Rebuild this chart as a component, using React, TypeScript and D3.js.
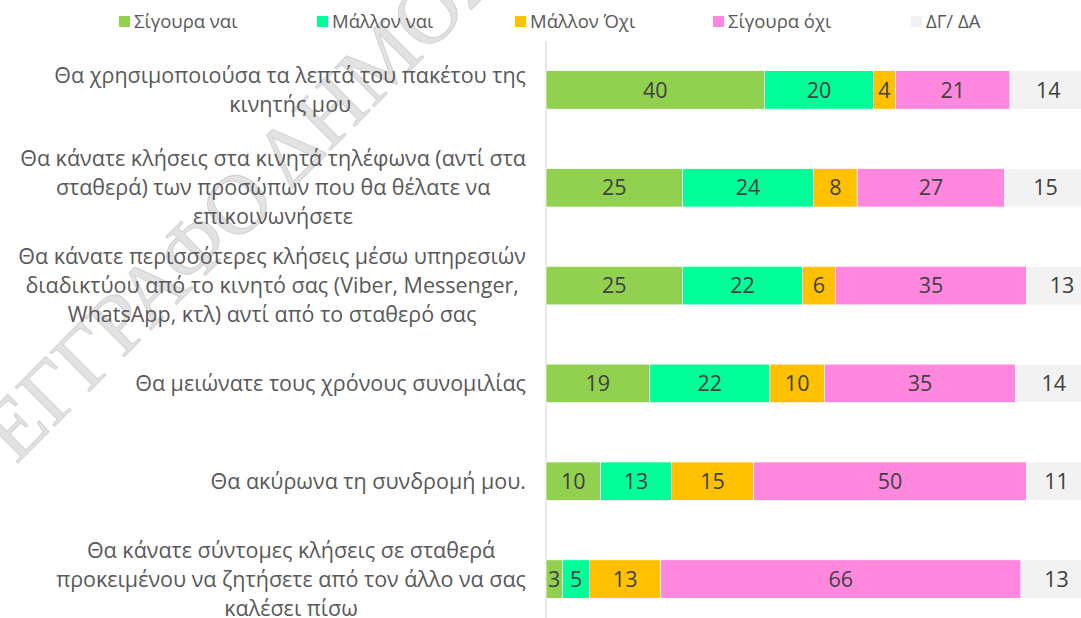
import React, { useEffect, useRef } from "react";
import * as d3 from "d3";

const W = 1081;
const H = 618;

const categories: string[][] = [
  ["Θα χρησιμοποιούσα τα λεπτά του πακέτου της", "κινητής μου"],
  ["Θα κάνατε κλήσεις στα κινητά τηλέφωνα (αντί στα", "σταθερά) των προσώπων που θα θέλατε να", "επικοινωνήσετε"],
  ["Θα κάνατε περισσότερες κλήσεις μέσω υπηρεσιών", "διαδικτύου από το κινητό σας (Viber, Messenger,", "WhatsApp, κτλ) αντί από το σταθερό σας"],
  ["Θα μειώνατε τους χρόνους συνομιλίας"],
  ["Θα ακύρωνα τη συνδρομή μου."],
  ["Θα κάνατε σύντομες κλήσεις σε σταθερά", "προκειμένου να ζητήσετε από τον άλλο να σας", "καλέσει πίσω"],
];

const seriesNames = ["Σίγουρα ναι", "Μάλλον ναι", "Μάλλον Όχι", "Σίγουρα όχι", "ΔΓ/ ΔΑ"];
const seriesColors = ["#92D050", "#00FF99", "#FFC000", "#FF87DD", "#F2F2F2"];

const sigouraNai = [40, 25, 25, 19, 10, 3];
const mallonNai = [20, 24, 22, 22, 13, 5];
const mallonOxi = [4, 8, 6, 10, 15, 13];
const sigouraOxi = [21, 27, 35, 35, 50, 66];
const dgDa = [14, 15, 13, 14, 11, 13];

const seriesValues = [sigouraNai, mallonNai, mallonOxi, sigouraOxi, dgDa];

const FONT = "'Open Sans', 'Noto Sans', sans-serif";

export default function App() {
  const ref = useRef<SVGSVGElement>(null);

  useEffect(() => {
    const svg = d3.select(ref.current);
    svg.selectAll("*").remove();

    const plotLeft = 546;
    const plotRight = 1092;
    const plotTop = 41;
    const plotBottom = 628;

    const ids = categories.map((_, i) => String(i));
    const y = d3.scaleBand<string>().domain(ids).range([plotTop, plotBottom]).paddingInner(0.605).paddingOuter(0.3025);
    const x = d3.scaleLinear().domain([0, 100]).range([plotLeft, plotRight]);

    // watermark
    svg
      .append("text")
      .attr("transform", "translate(16,465) rotate(-45)")
      .attr("font-family", "'Liberation Serif', 'DejaVu Serif', serif")
      .attr("font-size", 85)
      .attr("fill", "#e2e2e2")
      .attr("stroke", "#cdcdcd")
      .attr("stroke-width", 0.8)
      .text("ΕΓΓΡΑΦΟ ΔΗΜΟΣΙΟ");

    // axis line
    svg
      .append("line")
      .attr("x1", plotLeft)
      .attr("x2", plotLeft)
      .attr("y1", plotTop)
      .attr("y2", plotBottom)
      .attr("stroke", "#d9d9d9")
      .attr("stroke-width", 1.2);

    // stacked data
    const rows = categories.map((_, i) => {
      const o: any = { id: String(i) };
      seriesNames.forEach((s, k) => (o[s] = seriesValues[k][i]));
      return o;
    });
    const stacked = d3.stack<any>().keys(seriesNames)(rows);

    const g = svg.append("g");
    stacked.forEach((layer, k) => {
      const lg = g.append("g");
      lg.selectAll("rect")
        .data(layer)
        .join("rect")
        .attr("x", (d) => x(d[0]))
        .attr("y", (d) => y(d.data.id)!)
        .attr("width", (d) => x(d[1]) - x(d[0]))
        .attr("height", y.bandwidth())
        .attr("fill", seriesColors[k])
        .attr("stroke", "#ffffff")
        .attr("stroke-width", 0.8);
      lg.selectAll("text")
        .data(layer)
        .join("text")
        .attr("x", (d) => (x(d[0]) + x(d[1])) / 2)
        .attr("y", (d) => y(d.data.id)! + y.bandwidth() / 2)
        .attr("dy", "0.36em")
        .attr("text-anchor", "middle")
        .attr("font-family", FONT)
        .attr("font-size", 21.5)
        .attr("fill", "#404040")
        .text((d) => String(d[1] - d[0]));
    });

    // category labels
    const lineH = 29;
    const rightEdge = 526;
    categories.forEach((lines, i) => {
      const cy = y(String(i))! + y.bandwidth() / 2;
      const tg = svg.append("g");
      const texts = lines.map((ln) =>
        tg
          .append("text")
          .attr("font-family", FONT)
          .attr("font-size", 21.5)
          .attr("fill", "#595959")
          .attr("text-anchor", "middle")
          .text(ln)
      );
      const widths = texts.map((t) => (t.node() as SVGTextElement).getComputedTextLength());
      const maxW = d3.max(widths) || 0;
      const cx = rightEdge - maxW / 2;
      const n = lines.length;
      texts.forEach((t, j) => {
        t.attr("x", cx)
          .attr("y", cy + (j - (n - 1) / 2) * lineH)
          .attr("dy", "0.35em");
      });
    });

    // legend
    const lx = d3.scaleLinear().domain([0, 1]).range([119, 317]);
    seriesNames.forEach((s, k) => {
      const gx = lx(k);
      svg
        .append("rect")
        .attr("x", gx)
        .attr("y", 16)
        .attr("width", 11)
        .attr("height", 11)
        .attr("fill", seriesColors[k]);
      svg
        .append("text")
        .attr("x", gx + 15)
        .attr("y", 21.5)
        .attr("dy", "0.35em")
        .attr("font-family", FONT)
        .attr("font-size", 18.5)
        .attr("fill", "#595959")
        .text(s);
    });
  }, []);

  return (
    <svg
      ref={ref}
      width={W}
      height={H}
      style={{ position: "absolute", left: 0, top: 0, background: "#ffffff", overflow: "hidden" }}
    />
  );
}
